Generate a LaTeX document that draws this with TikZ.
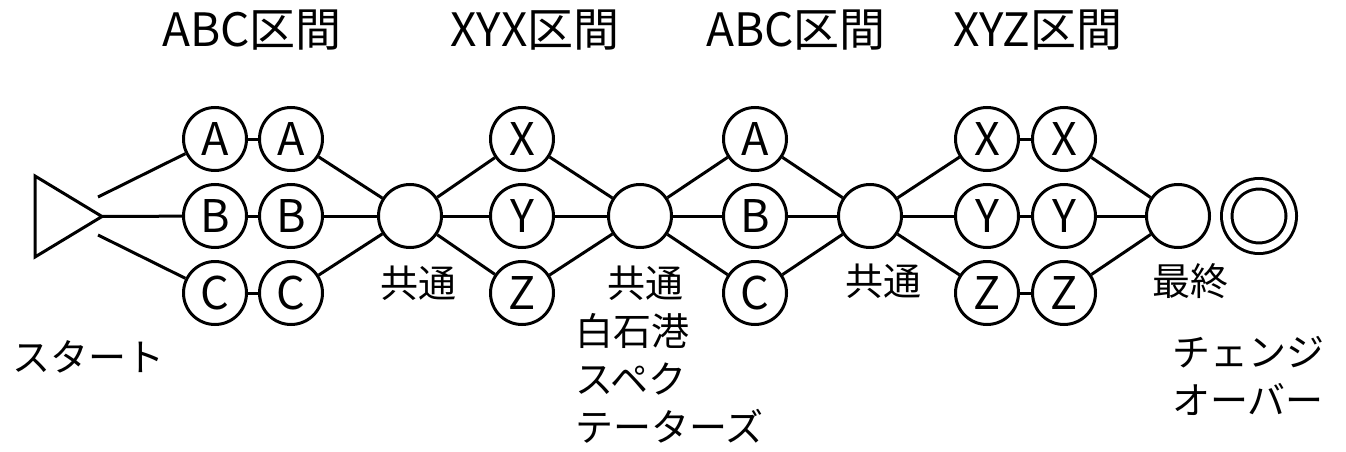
\documentclass[tikz,border=0pt]{standalone}
\usepackage{fontspec}
\setmainfont{Noto Sans CJK JP}
\begin{document}
\begin{tikzpicture}[x=1pt,y=-1pt,
  st/.style={circle, draw, line width=3pt, minimum size=63pt, inner sep=0pt, font=\fontsize{45}{45}\selectfont},
  lbl/.style={inner sep=0pt, font=\fontsize{38}{48}\selectfont},
  hdr/.style={inner sep=0pt, font=\fontsize{46}{46}\selectfont},
  conn/.style={line width=3pt}]
\useasboundingbox (0,0) rectangle (1346,452);
% headers
\node[hdr] (h1) at (252,30) {ABC区間};
\node[hdr] (h2) at (535,30) {XYX区間};
\node[hdr] (h3) at (796,30) {ABC区間};
\node[hdr] (h4) at (1038,30) {XYZ区間};
% start triangle
\draw[line width=3pt, line join=miter] (35,176) -- (35,257) -- (102,216.5) -- cycle;
\coordinate (s1) at (98,197);
\coordinate (s2) at (102,216.5);
\coordinate (s3) at (98,235);
% section 1
\node[st] (a1) at (215,139) {A};
\node[st] (a2) at (291,139) {A};
\node[st] (b1) at (215,216) {B};
\node[st] (b2) at (291,216) {B};
\node[st] (c1) at (215,293) {C};
\node[st] (c2) at (291,293) {C};
\node[st] (m1) at (410,216) {};
% section 2
\node[st] (x) at (522,139) {X};
\node[st] (y) at (522,216) {Y};
\node[st] (z) at (522,293) {Z};
\node[st] (m2) at (640,216) {};
% section 3
\node[st] (a3) at (755,139) {A};
\node[st] (b3) at (755,216) {B};
\node[st] (c3) at (755,293) {C};
\node[st] (m3) at (870,216) {};
% section 4
\node[st] (x1) at (987,139) {X};
\node[st] (x2) at (1064,139) {X};
\node[st] (y1) at (987,216) {Y};
\node[st] (y2) at (1064,216) {Y};
\node[st] (z1) at (987,293) {Z};
\node[st] (z2) at (1064,293) {Z};
\node[st] (fin) at (1178,216) {};
\node[circle, draw, line width=3pt, double, double distance=7.5pt, minimum size=64.5pt, inner sep=0pt] (goal) at (1259,216) {};
% connectors
\draw[conn] (s1) -- (a1);
\draw[conn] (s2) -- (b1);
\draw[conn] (s3) -- (c1);
\draw[conn] (a1) -- (a2);
\draw[conn] (b1) -- (b2);
\draw[conn] (c1) -- (c2);
\draw[conn] (a2) -- (m1);
\draw[conn] (b2) -- (m1);
\draw[conn] (c2) -- (m1);
\draw[conn] (m1) -- (x);
\draw[conn] (m1) -- (y);
\draw[conn] (m1) -- (z);
\draw[conn] (x) -- (m2);
\draw[conn] (y) -- (m2);
\draw[conn] (z) -- (m2);
\draw[conn] (m2) -- (a3);
\draw[conn] (m2) -- (b3);
\draw[conn] (m2) -- (c3);
\draw[conn] (a3) -- (m3);
\draw[conn] (b3) -- (m3);
\draw[conn] (c3) -- (m3);
\draw[conn] (m3) -- (x1);
\draw[conn] (m3) -- (y1);
\draw[conn] (m3) -- (z1);
\draw[conn] (x1) -- (x2);
\draw[conn] (y1) -- (y2);
\draw[conn] (z1) -- (z2);
\draw[conn] (x2) -- (fin);
\draw[conn] (y2) -- (fin);
\draw[conn] (z2) -- (fin);
% labels
\node[lbl] (l1) at (418,283) {共通};
\node[lbl] (l2) at (645,283) {共通};
\node[lbl, align=left, anchor=north west] (l2b) at (575,313) {白石港\\スペク\\テーターズ};
\node[lbl] (l3) at (883,281) {共通};
\node[lbl] (l4) at (1190,281) {最終};
\node[lbl, anchor=west] (l5) at (12,357) {スタート};
\node[lbl, align=left, anchor=north west] (l6) at (1172,336) {チェンジ\\オーバー};
\end{tikzpicture}
\end{document}
